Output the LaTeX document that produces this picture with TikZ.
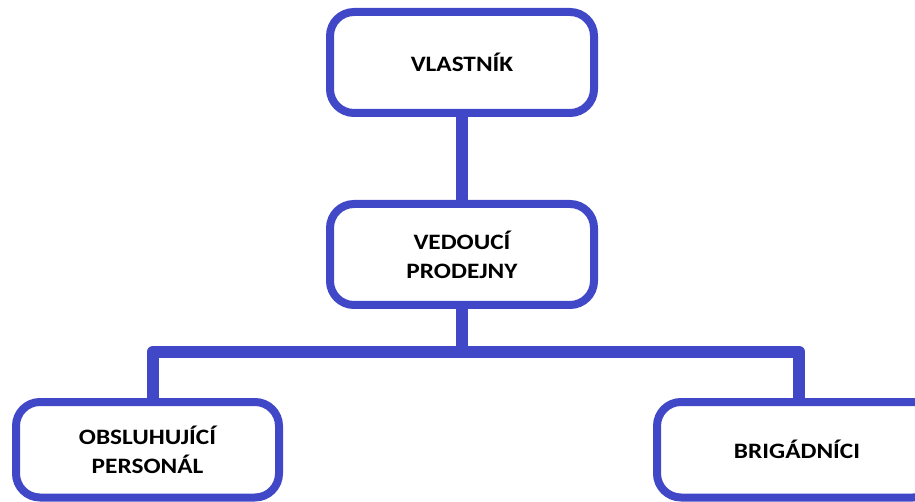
\documentclass[tikz,border=0pt]{standalone}
\usepackage{fontspec}
\setmainfont{Carlito}[FakeStretch=1.15]
\definecolor{orgblue}{RGB}{64,72,200}
\begin{document}
\begin{tikzpicture}[x=1pt,y=-1pt,
  box/.style={draw=orgblue, line width=8pt, rounded corners=24pt, fill=white,
    minimum width=264pt, minimum height=101pt, align=center, inner sep=0pt,
    font=\fontsize{22}{29}\selectfont\bfseries},
  conn/.style={draw=orgblue, line width=12pt, line join=round}]
\useasboundingbox (0,0) rectangle (915,502);
\node[box] (top) at (462,62.5) {VLASTNÍK};
\node[box] (mid) at (462,254.5) {VEDOUCÍ\\PRODEJNY};
\node[box, minimum width=263pt, minimum height=95.5pt] (left) at (147.5,449.75) {OBSLUHUJÍCÍ\\PERSONÁL};
\node[box, minimum width=280pt, minimum height=95.5pt] (right) at (797,449.75) {BRIGÁDNÍCI};
\coordinate (lc) at (153,351.5);
\coordinate (rc) at (799,351.5);
\draw[conn] (top.south) -- (mid.north);
\draw[conn] (mid.south) -- (mid.south |- lc);
\draw[conn] (lc |- left.north) -- (lc) -- (rc) -- (rc |- right.north);
\end{tikzpicture}
\end{document}
